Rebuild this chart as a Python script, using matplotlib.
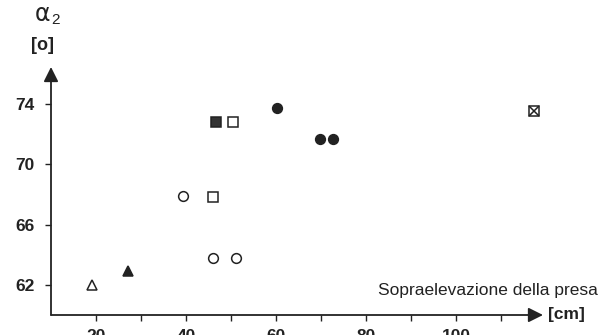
import matplotlib.pyplot as plt

plt.rcParams['font.family'] = ['Liberation Sans', 'DejaVu Sans']

# dati
tri_open_x, tri_open_y = [19], [62.0]
tri_fill_x, tri_fill_y = [27.2], [62.9]
circ_open_x = [39.4, 45.9, 51.0]
circ_open_y = [67.9, 63.8, 63.8]
sq_open_x = [46.1, 50.4]
sq_open_y = [67.8, 72.8]
sq_fill_x, sq_fill_y = [46.6], [72.8]
circ_fill_x = [60.3, 69.8, 72.6]
circ_fill_y = [73.7, 71.7, 71.7]
sq_cross_x, sq_cross_y = [117.2], [73.5]

xticks = [20, 40, 60, 80, 100]
yticks = [62, 66, 70, 74]

fig = plt.figure(figsize=(6.08, 3.35), dpi=100)
ax = fig.add_axes([51/608, 20/335, (543-51)/608, (315-67)/335])
ax.set_xlim(10, 119.3)
ax.set_ylim(60, 76.45)

col = '#222222'
ms = 7
ax.plot(tri_open_x, tri_open_y, '^', ms=ms, mfc='white', mec=col, mew=1.1, clip_on=False)
ax.plot(tri_fill_x, tri_fill_y, '^', ms=ms, mfc=col, mec=col, mew=1.1, clip_on=False)
ax.plot(circ_open_x, circ_open_y, 'o', ms=ms, mfc='white', mec=col, mew=1.1)
ax.plot(sq_open_x, sq_open_y, 's', ms=ms, mfc='white', mec=col, mew=1.1)
ax.plot(sq_fill_x, sq_fill_y, 's', ms=ms, mfc='#333333', mec=col, mew=1.1)
ax.plot(circ_fill_x, circ_fill_y, 'o', ms=ms, mfc=col, mec=col, mew=1.1)
ax.plot(sq_cross_x, sq_cross_y, 's', ms=ms, mfc='white', mec=col, mew=1.1)
ax.plot(sq_cross_x, sq_cross_y, 'x', ms=ms, mec=col, mew=1.1)

for s in ['top', 'right', 'left', 'bottom']:
    ax.spines[s].set_visible(False)

# assi con frecce
ax.annotate('', xy=(1, 0), xytext=(0, 0), xycoords='axes fraction',
            arrowprops=dict(arrowstyle='-|>', color=col, lw=1.3, mutation_scale=22,
                            shrinkA=0, shrinkB=0))
ax.annotate('', xy=(0, 1), xytext=(0, 0), xycoords='axes fraction',
            arrowprops=dict(arrowstyle='-|>', color=col, lw=1.3, mutation_scale=22,
                            shrinkA=0, shrinkB=0))

ax.set_xticks(range(20, 111, 10), minor=True)
ax.set_xticks(xticks)
ax.set_yticks(yticks)
ax.tick_params(axis='both', which='both', direction='out', length=4, width=1, color=col,
               labelsize=12.5, labelcolor=col)
ax.tick_params(axis='x', pad=6)
ax.tick_params(axis='y', pad=8)
for lab in ax.get_xticklabels() + ax.get_yticklabels():
    lab.set_fontweight('bold')

fig.text(43/608, 1 - 14/335, 'α', fontsize=17, ha='center', va='center', color=col,
         family=['DejaVu Sans'])
fig.text(55/608, 1 - 20/335, '2', fontsize=11, ha='center', va='center', color=col)
fig.text(43/608, 1 - 45/335, '[o]', fontsize=13, ha='center', va='center', color=col,
         fontweight='bold')
fig.text(598/608, 1 - 290/335, 'Sopraelevazione della presa', fontsize=12.5,
         ha='right', va='center', color=col)
fig.text(548/608, 1 - 315/335, '[cm]', fontsize=12.5, ha='left', va='center', color=col,
         fontweight='bold')

fig.savefig('out.png', dpi=100, facecolor='white')
